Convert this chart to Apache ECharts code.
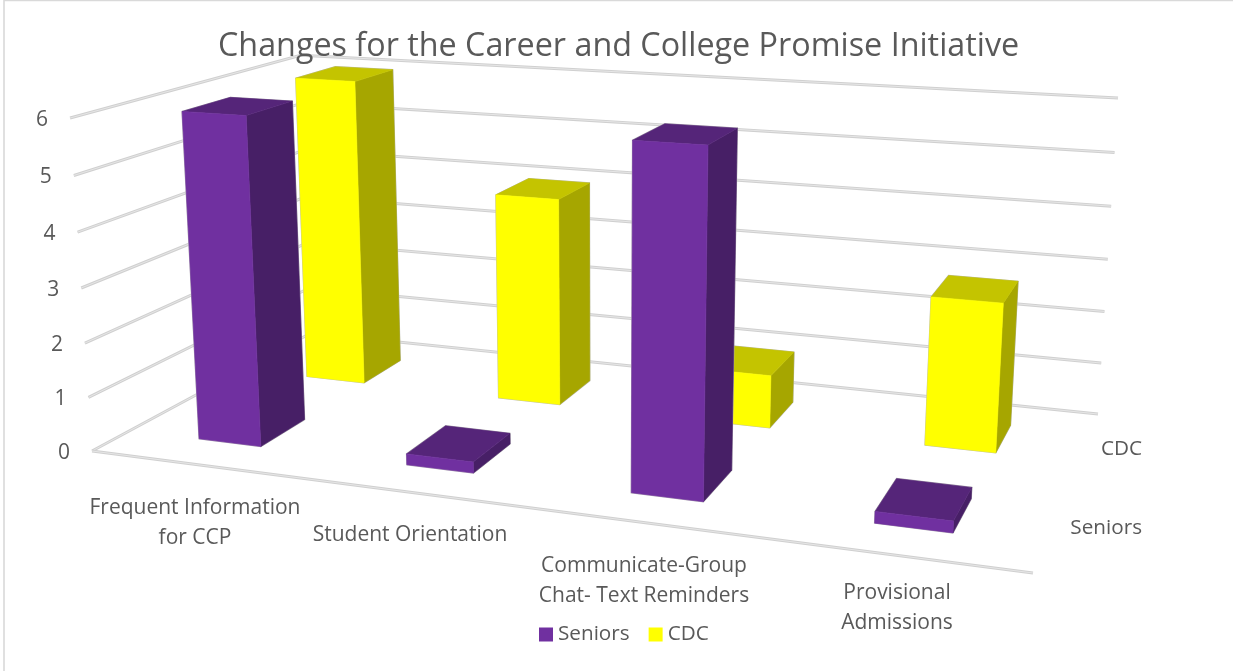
<!DOCTYPE html>
<html>
<head>
<meta charset="utf-8">
<style>html,body{margin:0;padding:0;background:#fff}#chart{width:1233px;height:671px}</style>
<script src="https://cdn.jsdelivr.net/npm/echarts@6/dist/echarts.min.js"></script>
</head>
<body>
<div id="chart"></div>
<script>
// Chart values
const categories = ['Frequent Information\nfor CCP', 'Student Orientation', 'Communicate-Group\nChat- Text Reminders', 'Provisional\nAdmissions'];
const seniors = [6, 0.2, 6, 0.2];
const cdc = [6, 4, 1, 2.75];
const valueTicks = [0, 1, 2, 3, 4, 5, 6];
const depthNames = ['Seniors', 'CDC'];

// Perspective frame: floor corners and the vanishing point of the vertical edges
const FLOOR = { fl: [92, 451], fr: [1033, 573], br: [1098, 414], bl: [311, 333] };
const VERTICAL_VP = [604, 8213];
const TOP_AT_FL = 118;
const BAR_W = 0.305, BAR_D = 0.4;
const FONT = '"Open Sans", sans-serif';
const TEXT = '#595959';
const CAT_LABEL_AT = [[195, 523], [410, 535], [644, 581], [897, 608]];

const PAL = {
  Seniors: { front: '#7030A0', side: '#471F66', top: '#552579' },
  CDC: { front: '#FFFF00', side: '#A6A600', top: '#C4C400' }
};

// Square-to-quad homography for the floor plane
function floorMatrix(q) {
  const [x0, y0] = q.fl, [x1, y1] = q.fr, [x2, y2] = q.br, [x3, y3] = q.bl;
  const dx1 = x1 - x2, dx2 = x3 - x2, dx3 = x0 - x1 + x2 - x3;
  const dy1 = y1 - y2, dy2 = y3 - y2, dy3 = y0 - y1 + y2 - y3;
  const det = dx1 * dy2 - dx2 * dy1;
  const g = (dx3 * dy2 - dx2 * dy3) / det, h = (dx1 * dy3 - dx3 * dy1) / det;
  return { a: x1 - x0 + g * x1, b: x3 - x0 + h * x3, c: x0, d: y1 - y0 + g * y1, e: y3 - y0 + h * y3, f: y0, g, h };
}
const H = floorMatrix(FLOOR);
const S = (TOP_AT_FL - FLOOR.fl[1]) / (VERTICAL_VP[1] - TOP_AT_FL);

// u: along the categories, w: front to back, v: height; all 0..1
function project(u, w, v) {
  const k = S * v;
  const X = H.a * u + H.b * w + H.c + k * VERTICAL_VP[0];
  const Y = H.d * u + H.e * w + H.f + k * VERTICAL_VP[1];
  const Z = H.g * u + H.h * w + 1 + k;
  return [X / Z, Y / Z];
}

function poly(points, fill) {
  return { type: 'polygon', shape: { points }, style: { fill, stroke: fill, lineWidth: 0.6 } };
}

// One perspective column per data item, read through the hidden axes
function barRenderer(name, depthIndex) {
  return function (params, api) {
    const cs = params.coordSys;
    const pt = api.coord([api.value(0), api.value(1)]);
    const band = api.size([1, 0])[0];
    const uc = (pt[0] - cs.x) / cs.width;
    const v = (cs.y + cs.height - pt[1]) / cs.height;
    const hu = band / cs.width * BAR_W / 2;
    const wc = (depthIndex + 0.5) / depthNames.length;
    const hw = BAR_D / depthNames.length / 2;
    const u0 = uc - hu, u1 = uc + hu, w0 = wc - hw, w1 = wc + hw;
    const a = project(u0, w0, 0), b = project(u1, w0, 0), c = project(u1, w1, 0);
    const at = project(u0, w0, v), bt = project(u1, w0, v), ct = project(u1, w1, v), dt = project(u0, w1, v);
    const c0 = PAL[name];
    return {
      type: 'group',
      children: [
        { type: 'polygon', shape: { points: [a, b, c, ct, dt, at] }, style: { fill: '#fff', stroke: '#bdbdbd', lineWidth: 1.4 } },
        poly([b, c, ct, bt], c0.side),
        poly([at, bt, ct, dt], c0.top),
        poly([a, b, bt, at], c0.front)
      ]
    };
  };
}

function gridStroke(points) {
  return [
    { type: 'polyline', shape: { points }, style: { fill: null, stroke: '#d0d0d0', lineWidth: 3 } },
    { type: 'polyline', shape: { points }, style: { fill: null, stroke: '#e6e6e6', lineWidth: 1 } }
  ];
}

// Wall gridlines and value labels
function frameRenderer(params, api) {
  const tick = api.value(0);
  const cs = params.coordSys;
  const v = (cs.y + cs.height - api.coord([0, tick])[1]) / cs.height;
  const left = project(0, 0, v), corner = project(0, 1, v), right = project(1, 1, v);
  const children = gridStroke([left, corner, right]);
  if (tick === 0) children.push(...gridStroke([left, project(1, 0, 0)]));
  children.push({
    type: 'text',
    style: { x: left[0] - 28, y: left[1] + 2, text: String(tick), fill: TEXT, font: '21px ' + FONT, align: 'center', verticalAlign: 'middle' }
  });
  return { type: 'group', children };
}

function categoryLabel(params) {
  const at = CAT_LABEL_AT[params.dataIndex];
  return {
    type: 'text',
    style: { x: at[0], y: at[1], text: categories[params.dataIndex], fill: TEXT, font: '21px ' + FONT, lineHeight: 30, align: 'center', verticalAlign: 'middle' }
  };
}

function depthLabel(params) {
  const w = (params.dataIndex + 0.5) / depthNames.length;
  const p = project(1, w, 0);
  return {
    type: 'text',
    style: { x: 1142, y: p[1] + 2, text: depthNames[params.dataIndex], fill: TEXT, font: '20.7px ' + FONT, align: 'right', verticalAlign: 'middle' }
  };
}

const chart = echarts.init(document.getElementById('chart'));
chart.setOption({
  animation: false,
  backgroundColor: '#fff',
  title: {
    text: 'Changes for the Career and College Promise Initiative',
    left: 213, top: 26,
    textStyle: { color: TEXT, fontFamily: FONT, fontSize: 32.3, fontWeight: 'normal' }
  },
  legend: {
    data: ['Seniors', 'CDC'], left: 534, top: 619,
    icon: 'rect', itemWidth: 14, itemHeight: 14, itemGap: 19,
    textStyle: { color: TEXT, fontFamily: FONT, fontSize: 20.7 }
  },
  // Chart-area border along the left and top edges
  graphic: [
    { type: 'polyline', silent: true, shape: { points: [[4, 671], [4, 0.5], [1233, 0.5]] }, style: { fill: null, stroke: '#d9d9d9', lineWidth: 1.6 } }
  ],
  grid: { left: 0, right: 0, top: 0, bottom: 0 },
  xAxis: { type: 'category', data: categories, show: false },
  yAxis: { type: 'value', min: 0, max: 6, interval: 1, show: false },
  series: [
    { type: 'custom', name: 'frame', z: 1, data: valueTicks.map(t => [t]), renderItem: frameRenderer, encode: { y: 0 }, silent: true },
    { type: 'custom', name: 'CDC', z: 2, itemStyle: { color: PAL.CDC.front }, data: cdc.map((d, i) => [i, d]), renderItem: barRenderer('CDC', 1), encode: { x: 0, y: 1 } },
    { type: 'custom', name: 'Seniors', z: 3, itemStyle: { color: PAL.Seniors.front }, data: seniors.map((d, i) => [i, d]), renderItem: barRenderer('Seniors', 0), encode: { x: 0, y: 1 } },
    { type: 'custom', name: 'categoryLabels', z: 4, data: categories.map((c, i) => [i, 0]), renderItem: categoryLabel, silent: true },
    { type: 'custom', name: 'depthLabels', z: 4, data: depthNames.map(() => [0, 0]), renderItem: depthLabel, silent: true }
  ]
});
</script>
</body>
</html>
